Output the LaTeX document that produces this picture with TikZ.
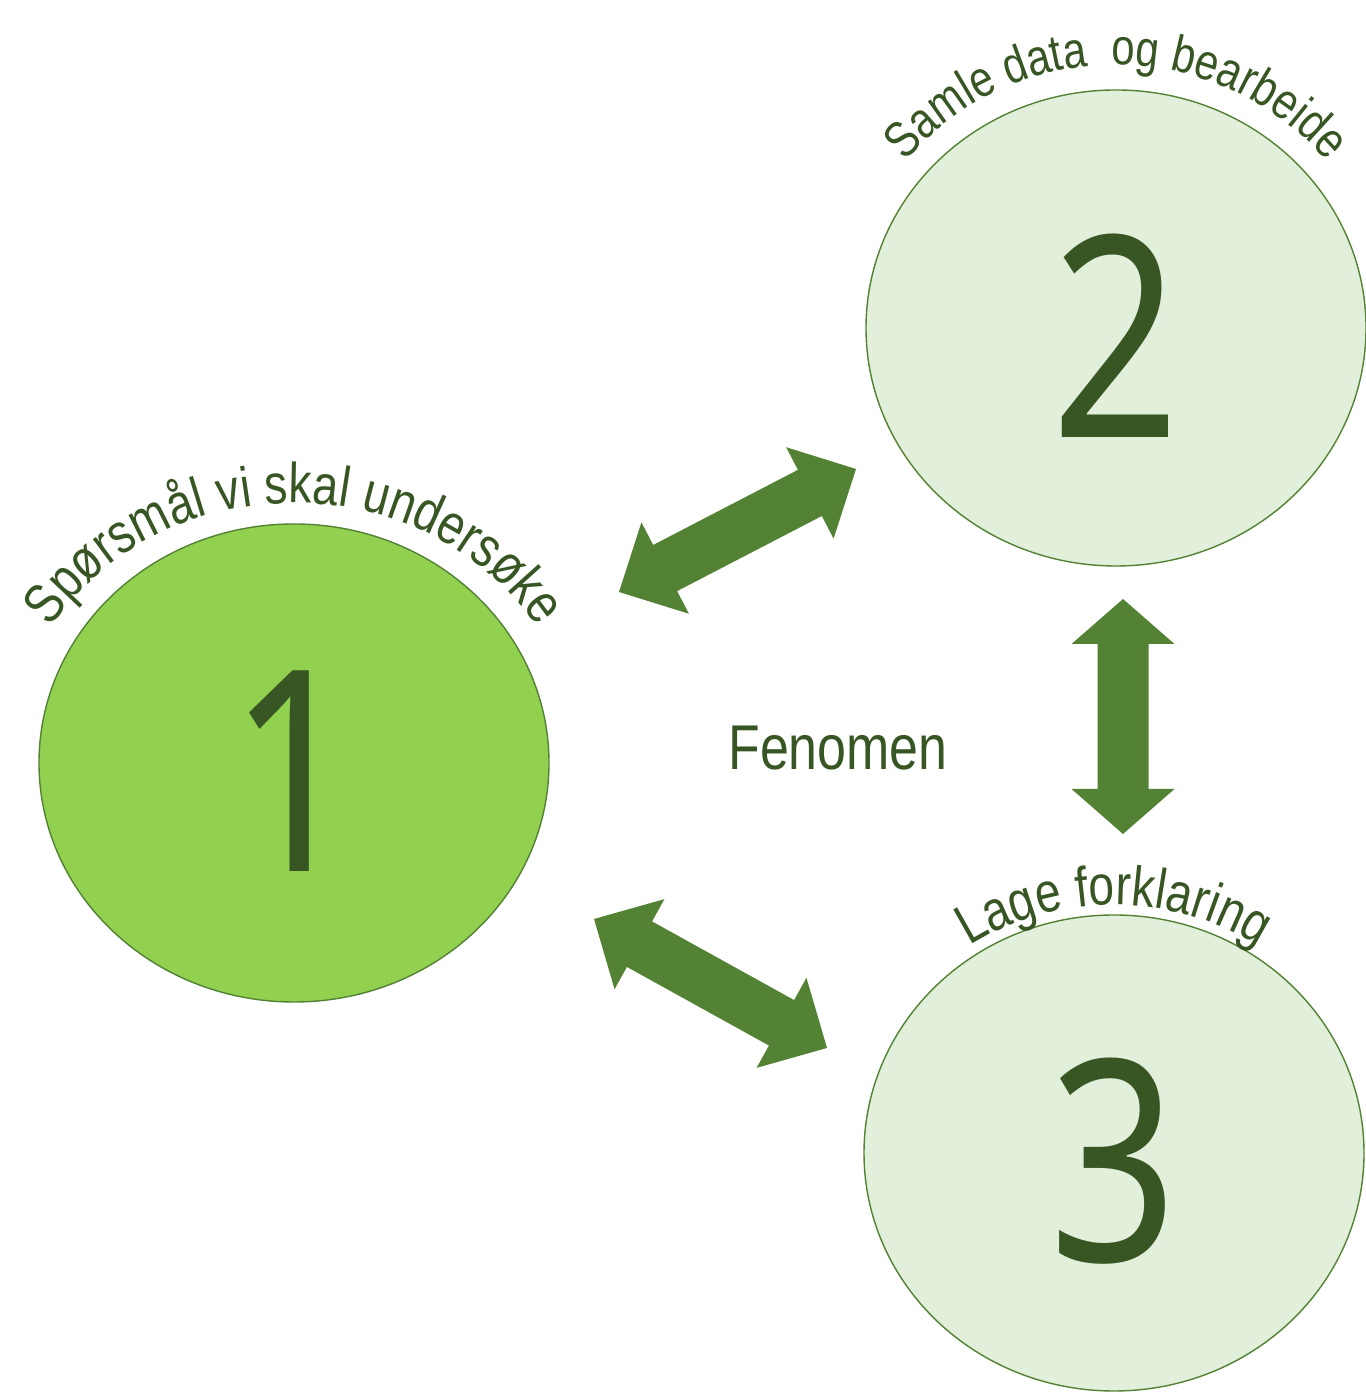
\documentclass[tikz,border=0pt]{standalone}
\usepackage{fontspec}
\usepackage{tikz}
\usetikzlibrary{calc,shapes.geometric,decorations.text}
\newfontfamily\narrowsans[FakeStretch=0.82]{Liberation Sans}
\newfontfamily\narrowdigits[FakeStretch=0.80]{Noto Sans}
\definecolor{leafgreen}{HTML}{92D050}
\definecolor{palegreen}{HTML}{E2EFDA}
\definecolor{arrowgreen}{HTML}{548235}
\definecolor{inkgreen}{HTML}{375623}
\tikzset{
    block head length/.code={\def\blockheadlength{#1}},   % Length of each head
    block head length=0.52cm, % Make sure it is set...
    block head width/.code={\def\blockheadwidth{#1}},     % Half width of a head
    block head width=0.515cm,
    block shaft width/.code={\def\blockshaftwidth{#1}},   % Half width of the shaft
    block shaft width=0.26cm,
    double block arrow/.style n args={2}{
            insert path={
                    let \p1 = ($(#1)!\blockheadlength!(#2)$),   % Base of first head
                    \p2 = ($(#2)!\blockheadlength!(#1)$) in     % Base of second head
                    (#1) -- ($(\p1)!\blockheadwidth!90:(#2)$) -- ($(\p1)!\blockshaftwidth!90:(#2)$)
                    -- ($(\p2)!\blockshaftwidth!-90:(#1)$) -- ($(\p2)!\blockheadwidth!-90:(#1)$)
                    -- (#2) -- ($(\p2)!\blockheadwidth!90:(#1)$) -- ($(\p2)!\blockshaftwidth!90:(#1)$)
                    -- ($(\p1)!\blockshaftwidth!-90:(#2)$) -- ($(\p1)!\blockheadwidth!-90:(#2)$) -- cycle
                }
        },
    phase/.style={ellipse, draw=arrowgreen, line width=0.4pt, inner sep=0pt},
    digit/.style={text=inkgreen, font=\narrowdigits\fontsize{80}{82}\selectfont},
    arc label/.style n args={2}{decorate, decoration={text along path, text align=center,
            text color=inkgreen, text={|\narrowsans\fontsize{#1}{19}\selectfont|#2}}}
}
\begin{document}
\begin{tikzpicture}
            \useasboundingbox (0, 0) rectangle (13.65, 13.92);
            % the three phases and their numbers
            \node[phase, fill=leafgreen, minimum width=5.10cm, minimum height=4.78cm] (q1) at (2.94, 6.29) {};
            \node[phase, fill=palegreen, minimum width=5.00cm, minimum height=4.76cm] (q2) at (11.16, 10.64) {};
            \node[phase, fill=palegreen, minimum width=5.00cm, minimum height=4.76cm] (q3) at (11.14, 2.39) {};
            \node[digit] (n1) at ([yshift=-0.08cm]q1.center) {1};
            \node[digit] (n2) at ([yshift=-0.08cm]q2.center) {2};
            \node[digit] (n3) at ([yshift=-0.08cm]q3.center) {3};
            \node[text=inkgreen, font=\narrowsans\fontsize{18}{20}\selectfont] (fen) at (8.38, 6.44) {Fenomen};
            % labels bent over the tops
            \path[arc label={16}{Spørsmål vi skal undersøke}] (q1.center) ++(180:2.85cm and 2.60cm)
                arc[start angle=180, end angle=0, x radius=2.85cm, y radius=2.60cm];
            \path[arc label={14.5}{Samle data {\ }og bearbeide}] (q2.center) ++(180:2.72cm and 2.63cm)
                arc[start angle=180, end angle=0, x radius=2.72cm, y radius=2.63cm];
            \path[arc label={16}{Lage forklaring}] (q3.center) ++(180:2.62cm and 2.48cm)
                arc[start angle=180, end angle=0, x radius=2.62cm, y radius=2.48cm];
            % block arrows between the phases
            \coordinate (e12) at (6.19, 8.00);
            \coordinate (e21) at (8.56, 9.23);
            \coordinate (e23) at (11.23, 7.93);
            \coordinate (e32) at (11.23, 5.58);
            \coordinate (e13) at (5.94, 4.73);
            \coordinate (e31) at (8.27, 3.44);
            \fill [arrowgreen, double block arrow={e12}{e21}];
            \fill [arrowgreen, block head length=0.45cm, block shaft width=0.255cm, double block arrow={e23}{e32}];
            \fill [arrowgreen, double block arrow={e13}{e31}];
        \end{tikzpicture}
\end{document}
